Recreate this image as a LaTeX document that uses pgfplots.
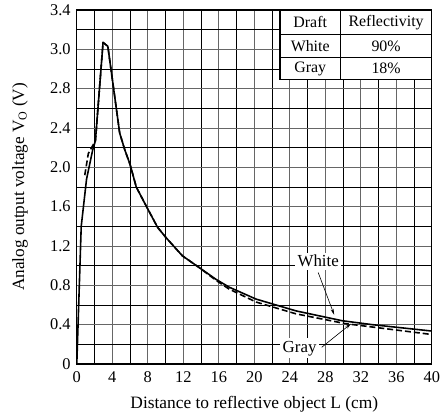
\documentclass[border=0pt]{standalone}
\usepackage{pgfplots}
\pgfplotsset{compat=1.18}
\usetikzlibrary{arrows.meta}
\usepackage{fontspec}
\setmainfont{Liberation Serif}

% output voltage vs distance
\pgfplotstableread{
L     V
0.0   0.00
0.5   1.40
1.1   1.88
1.8   2.18
2.1   2.27
2.96  3.27
3.5   3.23
4.83  2.35
5.4   2.18
6.0   2.03
6.7   1.80
7.8   1.61
9.1   1.39
10.1  1.28
11.9  1.10
13.8  0.98
15.7  0.86
17.2  0.78
20.2  0.66
24.7  0.54
29.9  0.44
33.3  0.40
40.0  0.335
}\white

\pgfplotstableread{
L     V
0.9   1.92
1.3   2.14
2.1   2.27
2.96  3.27
3.5   3.23
4.83  2.35
5.4   2.18
6.0   2.03
6.7   1.80
7.8   1.61
9.1   1.39
10.1  1.28
11.9  1.10
13.8  0.98
15.7  0.85
17.2  0.76
20.2  0.63
24.7  0.51
30.3  0.41
40.0  0.30
}\gray

\begin{document}
\begin{tikzpicture}
\begin{axis}[
  name=ax,
  width=356bp, height=355bp, scale only axis,
  xmin=0, xmax=40, ymin=0, ymax=3.6,
  xtick={0,4,8,12,16,20,24,28,32,36,40},
  minor xtick={2,6,10,14,18,22,26,30,34,38},
  ytick={0,0.4,0.8,1.2,1.6,2.0,2.4,2.8,3.2,3.6},
  yticklabels={0,0.4,0.8,1.2,1.6,2.0,2.4,2.8,3.0,3.4},
  xticklabels={0,4,8,12,16,20,24,28,32,36,40},
  minor ytick={0.2,0.6,1.0,1.4,1.8,2.2,2.6,3.0,3.4},
  grid=both,
  major grid style={black!60, line width=0.75pt},
  minor grid style={black, line width=0.75pt},
  major tick length=0pt, minor tick length=0pt,
  axis line style={line width=1.2pt},
  tick label style={font=\fontsize{16.5}{19}\selectfont, inner sep=0pt},
  xticklabel style={anchor=center, yshift=-13.5bp},
  yticklabel style={anchor=east, xshift=-6bp},
  xlabel={Distance to reflective object L (cm)},
  ylabel={Analog output voltage V\textsubscript{O} (V)},
  xlabel style={font=\fontsize{17.5}{20}\selectfont, at={(axis description cs:0.5,-0.1127)}, anchor=center},
  ylabel style={font=\fontsize{17.3}{20}\selectfont, at={(axis description cs:-0.16,0.5)}, anchor=center},
  clip=false,
]
\addplot[black, line width=1.6pt, line join=round] table[x=L, y=V] {\white};
\addplot[black, line width=1.6pt, line join=round, dash pattern=on 6pt off 3pt] table[x=L, y=V] {\gray};

% reflectivity table
\fill[white] (axis cs:22.9,2.89) rectangle (axis cs:40,3.6);
\draw[line width=1pt] (axis cs:22.9,3.35) -- (axis cs:40,3.35)
  (axis cs:22.9,3.12) -- (axis cs:40,3.12)
  (axis cs:29.7,2.89) -- (axis cs:29.7,3.6);
\draw[line width=1.2pt] (axis cs:22.9,3.6) rectangle (axis cs:40,2.89);
\begin{scope}[font=\fontsize{16}{19}\selectfont]
\node at (axis cs:26.3,3.475) {Draft};
\node at (axis cs:34.85,3.475) {Reflectivity};
\node at (axis cs:26.3,3.235) {White};
\node at (axis cs:34.85,3.235) {90\%};
\node at (axis cs:26.3,3.005) {Gray};
\node at (axis cs:34.85,3.005) {18\%};
\end{scope}

% curve labels
\draw[line width=0.6pt, -{Stealth[length=6pt, width=3pt]}] (axis cs:27.2,0.93) -- (axis cs:29.0,0.50);
\draw[line width=0.6pt, -{Stealth[length=6pt, width=3pt]}] (axis cs:27.6,0.17) -- (axis cs:30.9,0.41);
\node[fill=white, inner sep=2.5bp, font=\fontsize{17}{20}\selectfont] at (axis cs:27.2,1.045) {White};
\node[fill=white, inner sep=2.5bp, font=\fontsize{17}{20}\selectfont] at (axis cs:25.1,0.16) {Gray};
\end{axis}
\useasboundingbox ([shift={(-77bp,-54bp)}]ax.south west) rectangle ([shift={(7bp,10bp)}]ax.north east);
\end{tikzpicture}
\end{document}
